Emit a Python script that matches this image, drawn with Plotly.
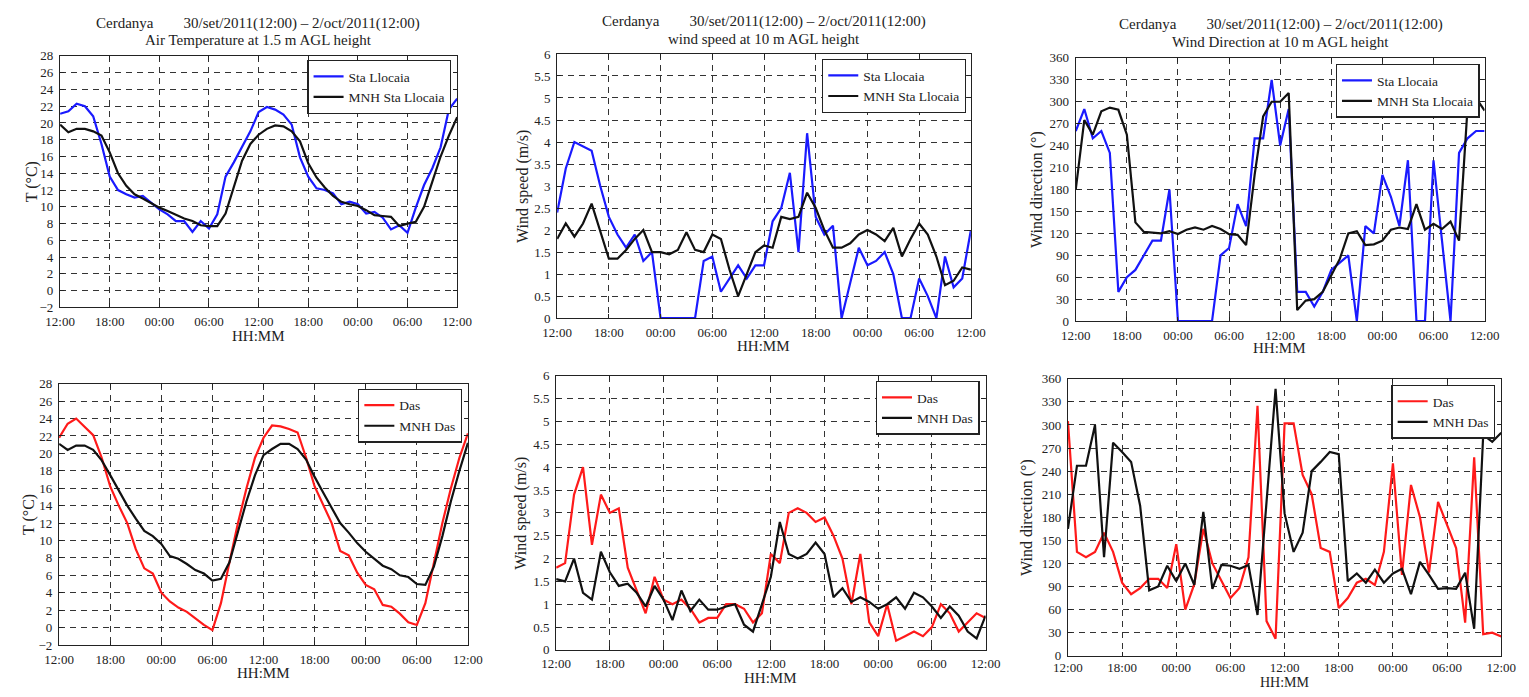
import plotly.graph_objects as go

W, H = 1529, 697

# hourly samples, 30/set 12:00 -> 2/oct 12:00
hours = list(range(49))
tick_hours = [0, 6, 12, 18, 24, 30, 36, 42, 48]
tick_labels = ["12:00", "18:00", "00:00", "06:00", "12:00",
               "18:00", "00:00", "06:00", "12:00"]

# --- Sta Llocaia ---
t_sta_obs = [21.1, 21.4, 22.3, 22.0, 20.8, 17.5, 13.6, 12.0, 11.5, 11.1, 11.3, 10.5,
             9.7, 9.1, 8.3, 8.3, 7.0, 8.3, 7.4, 9.1, 13.6, 15.3, 17.1, 19.0,
             21.3, 21.9, 21.6, 21.0, 19.8, 15.9, 13.6, 12.2, 12.0, 11.6, 10.3, 10.6,
             10.3, 9.2, 9.4, 8.7, 7.3, 7.8, 6.9, 9.9, 12.6, 14.6, 17.1, 21.6, 22.9]
t_sta_mnh = [19.8, 18.9, 19.3, 19.3, 19.0, 18.5, 16.5, 14.0, 12.5, 11.5, 11.0, 10.5,
             9.9, 9.5, 9.0, 8.6, 8.3, 7.8, 7.7, 7.7, 9.2, 12.5, 15.5, 17.5,
             18.6, 19.3, 19.7, 19.6, 19.0, 17.8, 15.2, 13.5, 12.3, 11.3, 10.6, 10.3,
             10.1, 9.6, 9.0, 8.9, 8.8, 7.7, 8.0, 8.2, 10.0, 13.0, 16.0, 18.5, 20.7]
ws_sta_obs = [2.4, 3.4, 4.0, 3.9, 3.8, 3.0, 2.3, 1.9, 1.6, 1.9, 1.3, 1.5,
              0.0, 0.0, 0.0, 0.0, 0.0, 1.3, 1.4, 0.6, 0.9, 1.2, 0.9, 1.2,
              1.2, 2.2, 2.5, 3.3, 1.5, 4.2, 2.3, 1.9, 2.1, 0.0, 0.8, 1.6,
              1.2, 1.3, 1.5, 1.0, 0.0, 0.0, 0.9, 0.5, 0.0, 1.4, 0.7, 0.9, 2.0]
ws_sta_mnh = [1.8, 2.15, 1.85, 2.15, 2.6, 2.0, 1.35, 1.35, 1.55, 1.8, 2.0, 1.5,
              1.5, 1.45, 1.55, 1.95, 1.55, 1.5, 1.9, 1.8, 1.1, 0.5, 1.0, 1.5,
              1.65, 1.6, 2.3, 2.25, 2.3, 2.85, 2.5, 2.0, 1.6, 1.6, 1.7, 1.9,
              2.0, 1.9, 1.75, 2.05, 1.4, 1.8, 2.15, 1.9, 1.4, 0.75, 0.85, 1.15, 1.1]
wd_sta_obs = [260, 290, 250, 260, 230, 40, 60, 70, 90, 110, 110, 180,
              0, 0, 0, 0, 0, 90, 100, 160, 130, 250, 250, 330,
              240, 290, 40, 40, 20, 40, 70, 80, 90, 0, 130, 120,
              200, 170, 130, 220, 0, 0, 220, 110, 0, 230, 250, 260, 260]
wd_sta_mnh = [180, 275, 255, 287, 292, 289, 255, 135, 122, 121, 120, 123,
              119, 125, 128, 125, 130, 126, 119, 118, 104, 200, 280, 300,
              300, 312, 15, 28, 30, 40, 62, 85, 120, 123, 104, 105,
              110, 125, 128, 126, 160, 125, 133, 126, 136, 110, 292, 305, 288]

# --- Das ---
t_das_obs = [21.8, 23.4, 24.0, 23.0, 22.1, 19.5, 16.2, 14.0, 12.0, 9.0, 6.8, 6.2,
             4.0, 3.0, 2.3, 1.8, 1.0, 0.3, -0.3, 2.8, 7.5, 12.0, 16.0, 19.5,
             21.8, 23.2, 23.1, 22.8, 22.4, 19.5, 16.2, 14.0, 12.0, 8.8, 8.3, 6.3,
             4.9, 4.4, 2.6, 2.4, 1.6, 0.6, 0.3, 2.8, 7.5, 12.0, 16.0, 19.5, 22.3]
t_das_mnh = [21.1, 20.4, 20.9, 20.9, 20.4, 19.2, 17.5, 15.8, 14.0, 12.5, 11.1, 10.5,
             9.6, 8.2, 7.9, 7.3, 6.6, 6.2, 5.4, 5.6, 7.5, 11.0, 14.5, 17.5,
             19.8, 20.5, 21.1, 21.1, 20.5, 19.3, 17.3, 15.5, 13.7, 12.0, 10.9, 9.7,
             8.7, 7.9, 7.1, 6.7, 6.0, 5.8, 5.0, 4.9, 7.0, 10.5, 14.5, 18.0, 21.2]
ws_das_obs = [1.8, 1.9, 3.4, 4.0, 2.3, 3.4, 3.0, 3.1, 1.8, 1.3, 0.8, 1.6,
              1.1, 1.0, 1.1, 0.9, 0.6, 0.7, 0.7, 1.0, 1.0, 0.9, 0.6, 0.8,
              2.1, 1.9, 3.0, 3.1, 3.0, 2.8, 2.9, 2.5, 2.0, 1.0, 2.1, 0.6,
              0.3, 1.0, 0.2, 0.3, 0.4, 0.3, 0.5, 1.0, 0.8, 0.4, 0.6, 0.8, 0.7]
ws_das_mnh = [1.55, 1.5, 2.0, 1.25, 1.1, 2.15, 1.7, 1.4, 1.45, 1.25, 0.95, 1.4,
              1.1, 0.65, 1.3, 0.85, 1.1, 0.88, 0.88, 0.95, 1.0, 0.55, 0.4, 1.0,
              1.6, 2.8, 2.1, 2.0, 2.1, 2.35, 2.1, 1.15, 1.35, 1.05, 1.15, 1.05,
              0.9, 1.0, 1.15, 0.9, 1.25, 1.15, 0.95, 0.7, 0.95, 0.75, 0.4, 0.25, 0.75]
wd_das_obs = [305, 135, 128, 135, 160, 135, 95, 80, 88, 100, 100, 88,
              145, 60, 93, 165, 120, 98, 75, 88, 128, 325, 45, 22,
              302, 302, 235, 210, 140, 135, 62, 75, 95, 100, 92, 135,
              250, 105, 222, 180, 108, 200, 170, 140, 43, 258, 28, 30, 25]
wd_das_mnh = [165, 247, 247, 300, 128, 277, 265, 252, 195, 85, 90, 117,
              97, 120, 92, 187, 87, 118, 117, 113, 118, 53, 200, 347,
              185, 135, 160, 240, 252, 265, 262, 97, 107, 95, 112, 95,
              107, 113, 80, 122, 105, 87, 88, 87, 108, 35, 287, 278, 290]

BLUE = "#1a1aff"
RED = "#ff1a1a"
BLACK = "#111111"
FONT = "Liberation Serif"

# plot boxes in pixels: (left, top, right, bottom)
panels = [
    dict(box=(46, 50, 451, 307), obs=t_sta_obs, mnh=t_sta_mnh, color=BLUE,
         names=("Sta Llocaia", "MNH Sta Llocaia"), yr=[-2, 28], dt=2,
         ytitle="T (°C)", ytx=17, legend=(445, 54), xso=2,
         title=("Air Temperature at 1.5 m AGL height", 248, 17, 34), xt=(248, 336, 15)),
    dict(box=(553, 48, 975, 318), obs=ws_sta_obs, mnh=ws_sta_mnh, color=BLUE,
         names=("Sta Llocaia", "MNH Sta Llocaia"), yr=[0, 6], dt=0.5,
         ytitle="Wind speed (m/s)", ytx=518, legend=(970, 53), xso=2,
         title=("wind speed at 10 m AGL height", 764, 15, 33), xt=(763, 346, 15)),
    dict(box=(1082, 52, 1499, 321), obs=wd_sta_obs, mnh=wd_sta_mnh, color=BLUE,
         names=("Sta Llocaia", "MNH Sta Llocaia"), yr=[0, 360], dt=30,
         ytitle="Wind direction (°)", ytx=1043, legend=(1494, 58), xso=2,
         title=("Wind Direction at 10 m AGL height", 1291, 18, 36), xt=(1290, 349, 15)),
    dict(box=(45, 385, 462, 652), obs=t_das_obs, mnh=t_das_mnh, color=RED,
         names=("Das", "MNH Das"), yr=[-2, 28], dt=2,
         ytitle="T (°C)", ytx=15, legend=(456, 390), xso=2,
         title=None, xt=(253, 681, 15)),
    dict(box=(552, 377, 990, 657), obs=ws_das_obs, mnh=ws_das_mnh, color=RED,
         names=("Das", "MNH Das"), yr=[0, 6], dt=0.5,
         ytitle="Wind speed (m/s)", ytx=516, legend=(984, 382), xso=1,
         title=None, xt=(771, 686, 15)),
    dict(box=(1074, 380, 1516, 663), obs=wd_das_obs, mnh=wd_das_mnh, color=RED,
         names=("Das", "MNH Das"), yr=[0, 360], dt=30,
         ytitle="Wind direction (°)", ytx=1033, legend=(1510, 386), xso=0,
         title=None, xt=(1295, 690, 14)),
]

HEADER = "Cerdanya\u00a0\u00a0\u00a0\u00a0\u00a0\u00a0\u00a0\u00a030/set/2011(12:00) \u2013 2/oct/2011(12:00)"

fig = go.Figure()
annotations = []
layout = dict(
    width=W, height=H, margin=dict(l=0, r=0, t=0, b=0),
    paper_bgcolor="white", plot_bgcolor="white",
    font=dict(family=FONT, size=13, color="#222"),
)

def px_x(v):
    return v / W

def px_y(v):
    return 1 - v / H

for i, p in enumerate(panels):
    n = i + 1
    xa = "x" if n == 1 else f"x{n}"
    ya = "y" if n == 1 else f"y{n}"
    leg = "legend" if n == 1 else f"legend{n}"
    l, t, r, b = p["box"]

    fig.add_trace(go.Scatter(x=hours, y=p["obs"], mode="lines", name=p["names"][0],
                             line=dict(color=p["color"], width=2.2),
                             xaxis=xa, yaxis=ya, legend=leg))
    fig.add_trace(go.Scatter(x=hours, y=p["mnh"], mode="lines", name=p["names"][1],
                             line=dict(color=BLACK, width=2.2),
                             xaxis=xa, yaxis=ya, legend=leg))

    lo, hi = p["yr"]
    axis_common = dict(
        showline=True, linecolor="#222", linewidth=1.3, mirror="ticks",
        ticks="inside", ticklen=4, tickcolor="#222",
        showgrid=True, gridcolor="#333", gridwidth=1, griddash="6px,5px",
        zeroline=False, tickfont=dict(family=FONT, size=13, color="#222"),
    )
    layout["xaxis" if n == 1 else f"xaxis{n}"] = dict(
        axis_common, domain=[px_x(l), px_x(r)], range=[0, 48],
        tickmode="array", tickvals=tick_hours, ticktext=tick_labels,
        anchor=ya, ticklabelstandoff=p["xso"],
    )
    layout["yaxis" if n == 1 else f"yaxis{n}"] = dict(
        axis_common, domain=[px_y(b), px_y(t)], range=[lo, hi],
        tickmode="linear", tick0=lo, dtick=p["dt"], anchor=xa,
        ticklabelstandoff=3,
    )
    lx, ly = p["legend"]
    layout[leg] = dict(
        x=px_x(lx), y=px_y(ly), xanchor="right", yanchor="top",
        bgcolor="white", bordercolor="#222", borderwidth=1.3,
        font=dict(family=FONT, size=13.5, color="#222"),
        itemwidth=30, tracegroupgap=0,
    )

    # axis titles
    annotations.append(dict(
        text=p["ytitle"], x=px_x(p["ytx"]), y=px_y((t + b) / 2),
        xref="paper", yref="paper", showarrow=False, textangle=-90,
        font=dict(family=FONT, size=16, color="#222"),
        xanchor="center", yanchor="middle"))
    xtx, xty, xts = p["xt"]
    annotations.append(dict(
        text="HH:MM", x=px_x(xtx), y=px_y(xty),
        xref="paper", yref="paper", showarrow=False,
        font=dict(family=FONT, size=xts, color="#222"),
        xanchor="center", yanchor="middle"))

    if p["title"]:
        sub, cx, y1, y2 = p["title"]
        annotations.append(dict(
            text=HEADER, x=px_x(cx), y=px_y(y1), xref="paper", yref="paper",
            showarrow=False, font=dict(family=FONT, size=15, color="#222"),
            xanchor="center", yanchor="middle"))
        annotations.append(dict(
            text=sub, x=px_x(cx), y=px_y(y2), xref="paper", yref="paper",
            showarrow=False, font=dict(family=FONT, size=15, color="#222"),
            xanchor="center", yanchor="middle"))

layout["annotations"] = annotations
layout["showlegend"] = True
fig.update_layout(**layout)

fig.write_html("out.html")
